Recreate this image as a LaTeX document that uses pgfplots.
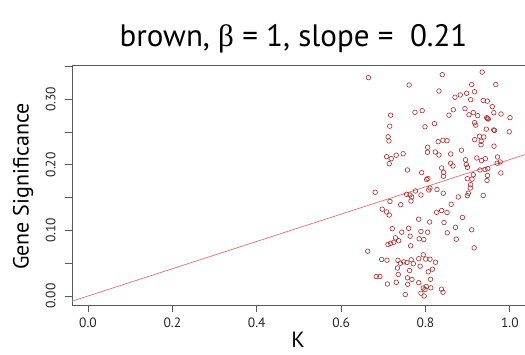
\documentclass[border=0pt]{standalone}
\usepackage{fontspec}
\setmainfont{PT Sans}
\newfontfamily\grk{Liberation Serif}
\usepackage{pgfplots}
\pgfplotsset{compat=1.18}
\definecolor{ptcol}{RGB}{165,45,45}
\definecolor{lncol}{RGB}{228,110,110}
\definecolor{axcol}{RGB}{90,90,90}
\begin{document}
\begin{tikzpicture}
\begin{axis}[
 name=ax, at={(0pt,0pt)}, anchor=south west,
 scale only axis, width=453pt, height=239.3pt,
 xmin=-0.038, xmax=1.036, ymin=-0.0137, ymax=0.351,
 axis lines=left, axis line style={-, axcol, line width=0.8pt},
 tick align=outside, major tick length=7pt, tick style={axcol, line width=0.8pt},
 xtick={0,0.2,0.4,0.6,0.8,1.0}, xticklabels={0.0,0.2,0.4,0.6,0.8,1.0},
 ytick={0,0.05,0.1,0.15,0.2,0.25,0.3,0.35}, yticklabels={0.00,,0.10,,0.20,,0.30,},
 ticklabel style={font=\fontsize{13.5}{14}\selectfont, text=black!85},
 xticklabel style={yshift=-2pt},
 yticklabel style={xshift=-6pt, rotate=90, anchor=south},
 xlabel={K}, ylabel={Gene Significance},
 label style={font=\fontsize{22}{24}\selectfont},
 xlabel style={at={(axis description cs:0.499,-0.178)}, anchor=base},
 ylabel style={at={(axis description cs:-0.108,0.495)}, anchor=center},
 clip=false,
]
\addplot[lncol, line width=0.7pt] coordinates {(-0.038,-0.0079) (1.036,0.2155)};
\addplot[only marks, mark=o, mark size=2.3pt, mark options={draw=ptcol, line width=0.6pt}] coordinates {
(0.6648,0.3328) (0.7613,0.3216) (0.8399,0.3373) (0.9345,0.3412) (0.9096,0.3224) (0.9668,0.3224)
(0.8320,0.3125) (0.8700,0.3029) (0.8826,0.3064) (0.8977,0.3090) (0.9163,0.3113) (0.9072,0.2992)
(0.9369,0.2980) (0.9466,0.2970) (0.8660,0.2838) (0.8937,0.2855) (0.9585,0.2886) (0.7174,0.2756)
(0.7751,0.2800) (0.7922,0.2825) (0.8558,0.2756) (0.9032,0.2762) (0.9134,0.2794) (0.9238,0.2749)
(0.9452,0.2717) (0.9490,0.2698) (0.9471,0.2706) (0.9620,0.2794) (0.9791,0.2774) (1.0005,0.2718)
(0.7153,0.2588) (0.7988,0.2579) (0.8214,0.2627) (0.9163,0.2642) (0.9191,0.2604) (0.9443,0.2543)
(0.9618,0.2531) (0.9637,0.2523) (0.9986,0.2503) (0.7115,0.2427) (0.7134,0.2363) (0.8301,0.2352)
(0.8415,0.2374) (0.8510,0.2367) (0.9167,0.2383) (0.9281,0.2435) (0.9383,0.2424) (0.9321,0.2358)
(0.9317,0.2306) (0.8052,0.2267) (0.8047,0.2191) (0.8233,0.2195) (0.8320,0.2149) (0.9625,0.2284)
(0.7080,0.2123) (0.7189,0.2093) (0.7307,0.2146) (0.7471,0.2168) (0.7141,0.2017) (0.8598,0.2165)
(0.8854,0.2223) (0.8598,0.2023) (0.8652,0.1982) (0.8949,0.2076) (0.8968,0.2005) (0.8996,0.1962)
(0.9217,0.2104) (0.9329,0.2063) (0.9419,0.2093) (0.9708,0.2119) (0.9772,0.2043) (0.9701,0.2024)
(0.7573,0.1921) (0.7910,0.1880) (0.8028,0.1776) (0.8059,0.1791) (0.8384,0.1951) (0.8429,0.1886)
(0.8427,0.1825) (0.9134,0.1848) (0.9103,0.1781) (0.8992,0.1788) (0.9293,0.1921) (0.9412,0.1928)
(0.9476,0.1941) (0.9471,0.1837) (0.9459,0.1761) (0.9787,0.1875)
(0.6807,0.1581) (0.7554,0.1550) (0.7632,0.1540) (0.7673,0.1509) (0.7763,0.1601) (0.7893,0.1540)
(0.8078,0.1616) (0.8107,0.1646) (0.8273,0.1623) (0.8422,0.1566) (0.8778,0.1509) (0.9015,0.1567)
(0.9063,0.1646) (0.9072,0.1697) (0.8992,0.1529) (0.9369,0.1532) (0.7158,0.1441) (0.7414,0.1392)
(0.7656,0.1448) (0.8610,0.1398) (0.6975,0.1323) (0.7080,0.1281) (0.7141,0.1235) (0.8266,0.1276)
(0.8384,0.1303) (0.8510,0.1273) (0.8878,0.1197) (0.7839,0.1171) (0.8100,0.1128) (0.8439,0.1120)
(0.7212,0.1026) (0.7438,0.0973) (0.7601,0.1032) (0.7893,0.0983) (0.8052,0.0973) (0.8517,0.0963)
(0.8712,0.1047) (0.9096,0.1009) (0.7288,0.0887) (0.7364,0.0843) (0.7248,0.0819) (0.7110,0.0785)
(0.7174,0.0803) (0.7637,0.0912) (0.7851,0.0872) (0.7960,0.0861) (0.8731,0.0866) (0.7649,0.0765)
(0.9155,0.0735) (0.6631,0.0683) (0.6961,0.0556) (0.7087,0.0546) (0.7347,0.0544) (0.7407,0.0500)
(0.7483,0.0521) (0.7561,0.0511) (0.7661,0.0552) (0.7711,0.0492) (0.7841,0.0567) (0.7948,0.0628)
(0.8007,0.0564) (0.8107,0.0561) (0.8237,0.0515) (0.7336,0.0427) (0.7355,0.0328) (0.7625,0.0389)
(0.7874,0.0454) (0.8066,0.0369) (0.8166,0.0409) (0.6833,0.0297) (0.6920,0.0297) (0.7098,0.0183)
(0.7307,0.0209) (0.7573,0.0277) (0.7680,0.0252) (0.7841,0.0203) (0.8119,0.0255) (0.7578,0.0178)
(0.7948,0.0122) (0.8019,0.0145) (0.8126,0.0125) (0.7988,0.0099) (0.8380,0.0104) (0.8415,0.0058)
(0.7521,0.0023) (0.7893,0.0043) (0.7969,0.0000)
};
\draw[axcol, line width=0.8pt] (rel axis cs:0,1) -- (rel axis cs:1,1);
\node[anchor=base, font=\fontsize{31}{33}\selectfont] at (axis description cs:0.489,1.0795)
 {brown, {\grk β} = 1, slope = \ 0.21};
\end{axis}
\pgfresetboundingbox
\path[use as bounding box] (-72pt,-49pt) rectangle (453pt,305pt);
\end{tikzpicture}
\end{document}
